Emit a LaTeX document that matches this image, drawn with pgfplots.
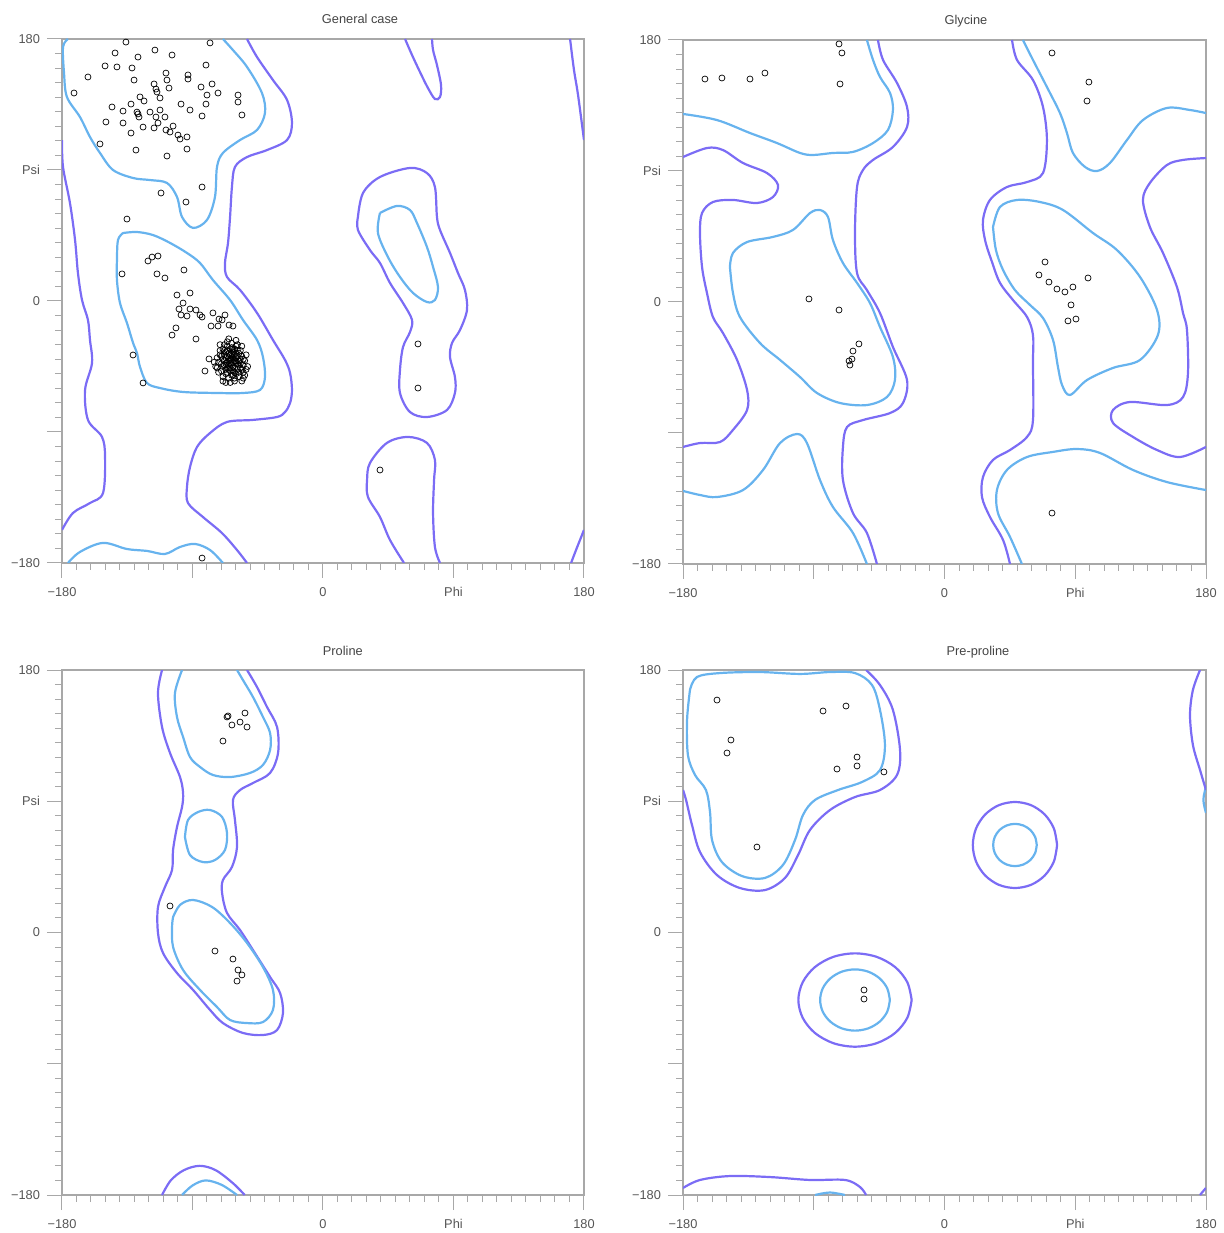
\documentclass[border=0pt]{standalone}
\usepackage{fontspec}
\setmainfont{Liberation Sans}
\usepackage{pgfplots}
\pgfplotsset{compat=1.18}
\definecolor{purp}{HTML}{7B6CF5}
\definecolor{lblue}{HTML}{67B3EE}
\definecolor{axgray}{HTML}{A8A8A8}
\definecolor{labgray}{HTML}{555555}
\definecolor{titgray}{HTML}{444444}
\pgfplotsset{
  rama/.style={
    scale only axis,
    xmin=-180,xmax=180,ymin=-180,ymax=180,
    xtick={-180,-90,0,90,180}, xticklabels={−180,,0,Phi,180},
    ytick={-180,-90,0,90,180}, yticklabels={−180,,0,Psi,180},
    minor tick num=8,
    tick align=outside, xtick pos=bottom, ytick pos=left,
    major tick length=7.5pt, minor tick length=3.5pt,
    axis line style={draw=axgray, line width=0.6pt},
    every tick/.style={axgray, line width=0.5pt},
    tick label style={font=\fontsize{6.4}{7}\selectfont, text=labgray},
    xticklabel style={yshift=-1.2pt},
    title style={font=\fontsize{6.4}{7}\selectfont, text=titgray, anchor=base, yshift=1.5pt},
    clip=true,
  },
  pu/.style={purp, line width=1.1pt, smooth, tension=0.55},
  lb/.style={lblue, line width=1.1pt, smooth, tension=0.55},
  pts/.style={only marks, mark=o, mark size=1.5pt, black, mark options={line width=0.35pt}},
}
\begin{document}
\begin{tikzpicture}
\path[use as bounding box] (0,0) rectangle (611.5pt,616.5pt);
% ================= General case =================
\begin{axis}[rama, width=261pt, height=262pt, at={(31pt,335pt)}, anchor=south west,
  title={General case}, title style={at={(0.571,1)}}]
\addplot[lb] coordinates {(-175.9,180) (-179.3,174.5) (-178.6,156.6) (-176.6,140.2) (-167.6,126.4) (-160.7,112.7) (-153.8,101.7) (-144.8,90) (-131.0,84.5) (-119.3,83.1) (-107.6,81.1) (-100.7,71.5) (-97.2,57.7) (-89.6,50.2) (-80.0,55.7) (-74.5,71.5) (-73.1,92.1) (-69.0,101.7) (-57.2,110.6) (-45.5,117.5) (-40.0,129.2) (-42.1,142.9) (-52.4,160.8) (-62.1,172.4) (-69.0,180)};
\addplot[lb] coordinates {(-175.9,-180) (-167.6,-172.4) (-151.7,-166.2) (-135.2,-170.4) (-121.4,-171.7) (-109.0,-173.8) (-98.6,-169.0) (-88.3,-166.9) (-77.9,-171.1) (-69.0,-180)};
\addplot[lb] coordinates {(-137.9,46.7) (-128.3,47.4) (-117.2,45.3) (-105.5,39.9) (-93.8,33.0) (-84.8,26.1) (-75.9,14.4) (-64.1,0.7) (-55.2,-13.0) (-45.5,-26.8) (-41.4,-38.5) (-40.0,-52.2) (-43.4,-61.1) (-55.2,-63.2) (-73.1,-63.2) (-96.5,-62.5) (-112.4,-59.8) (-121.4,-56.3) (-126.2,-45.3) (-128.3,-35.7) (-131.0,-28.8) (-135.2,-15.1) (-140.0,-1.4) (-142.1,14.4) (-142.1,28.2) (-141.4,41.9) (-137.9,46.7)};
\addplot[lb] coordinates {(39.3,60.5) (51.0,65.3) (60.0,62.5) (64.8,53.6) (71.7,37.1) (75.9,23.4) (79.3,9.6) (77.2,0.7) (71.7,-0.7) (62.1,5.5) (53.1,16.5) (44.8,30.2) (37.9,46.7) (39.3,60.5)};
\addplot[pu] coordinates {(-52.4,180) (-45.5,167.6) (-34.5,151.8) (-24.8,138.1) (-21.4,122.3) (-24.8,110.6) (-38.6,103.7) (-52.4,98.9) (-60.7,92.1) (-62.8,78.3) (-64.1,57.7) (-65.5,39.9) (-67.6,26.1) (-66.2,16.5) (-57.2,7.6) (-45.5,-8.2) (-34.5,-26.8) (-26.2,-40.5) (-22.7,-49.5) (-21.4,-61.1) (-22.7,-70.1) (-26.2,-76.3) (-31.7,-79.7) (-48.3,-81.7) (-66.2,-83.1) (-77.9,-90.7) (-86.9,-100.3) (-91.7,-114.0) (-93.8,-127.8) (-93.1,-138.8) (-82.8,-148.4) (-69.7,-159.4) (-59.3,-171.1) (-52.4,-180)};
\addplot[pu] coordinates {(-180,110.6) (-179.3,92.1) (-174.5,67.3) (-171.0,41.9) (-169.0,19.2) (-166.2,0.7) (-162.1,-13.0) (-160.7,-26.8) (-159.3,-42.6) (-164.1,-61.1) (-162.1,-81.7) (-152.4,-93.4) (-150.3,-107.2) (-151.7,-131.9) (-160.7,-138.8) (-172.4,-145.6) (-180,-157.3)};
\addplot[pu] coordinates {(170.4,180) (173.1,158.7) (175.9,141.5) (180,110.6)};
\addplot[pu] coordinates {(171.1,-180) (174.5,-171.1) (180,-157.3)};
\addplot[pu] coordinates {(56.6,180) (61.4,169.0) (66.9,157.3) (72.4,146.3) (77.2,138.8) (80.7,140.2) (81.4,148.4) (78.6,162.1) (75.9,172.4) (75.2,180)};
\addplot[pu] coordinates {(55.9,-180) (46.2,-164.2) (39.3,-148.4) (31.0,-134.6) (30.4,-123) (32.4,-111.3) (44.1,-97.5) (58.6,-93.4) (71.7,-97.5) (77.2,-109.2) (76.6,-123) (75.9,-145.6) (77.2,-169) (80.7,-180)};
\addplot[pu] coordinates {(24.1,57.7) (27.6,74.2) (39.3,85.2) (60.0,91.4) (71.7,87.9) (77.2,78.3) (78.6,57.7) (80.7,48.8) (87.6,33.0) (93.1,19.2) (97.9,7.6) (99.3,-6.2) (94.5,-19.9) (89.0,-28.8) (87.6,-38.5) (91.0,-52.2) (91.0,-63.2) (85.5,-74.9) (71.7,-79.7) (60.0,-76.3) (53.1,-63.2) (53.1,-47.4) (55.2,-31.6) (60.0,-21.3) (61.4,-13.0) (55.2,-1.4) (46.2,12.4) (39.3,26.1) (32.4,35.0) (24.1,48.8) (24.1,57.7)};
\addplot[pts] coordinates {(-135.9,177.9) (-77.9,177.3) (-115.9,172.4) (-143.4,170.4) (-104.1,169.0) (-127.6,167.6) (-150.3,161.5) (-142.1,160.8) (-131.7,160.1) (-80.7,162.1) (-108.3,156.6) (-93.1,155.3) (-93.1,152.5) (-162.1,153.9) (-130.3,151.8) (-107.6,151.8) (-116.5,149.1) (-76.5,149.1) (-84.1,147.0) (-115.2,145.6) (-106.2,146.3) (-114.5,143.6) (-72.4,142.9) (-171.7,142.9) (-80.0,141.5) (-58.6,141.5) (-126.2,140.2) (-112.4,139.5) (-123.4,137.4) (-132.4,135.3) (-97.9,135.3) (-80.7,135.3) (-58.6,136.7) (-145.5,133.3) (-137.9,130.5) (-128.3,129.8) (-127.6,128.5) (-119.3,129.8) (-112.4,131.2) (-91.7,131.2) (-126.9,126.4) (-115.2,126.4) (-109.0,126.4) (-83.4,127.1) (-55.9,127.8) (-149.7,123.0) (-137.9,122.3) (-113.8,122.3) (-124.1,119.5) (-116.5,118.9) (-103.4,120.2) (-108.3,117.5) (-105.5,116.1) (-132.4,115.4) (-100.0,114.0) (-93.8,112.7) (-98.6,111.3) (-153.8,107.9) (-129.0,103.7) (-93.8,104.4) (-107.6,99.6) (-83.4,78.3) (-111.7,74.2) (-94.5,68.0) (-135.2,56.3) (-113.8,30.9) (-117.9,30.2) (-120.7,27.5) (-138.6,18.6) (-114.5,18.6) (-109.0,15.8) (-95.9,21.3) (-91.7,5.5) (-100.7,4.1) (-96.5,-1.4) (-99.3,-5.5) (-91.7,-5.5) (-87.6,-6.2) (-97.9,-9.6) (-93.8,-10.3) (-84.8,-9.6) (-83.4,-11.0) (-75.9,-8.2) (-71.7,-12.4) (-67.6,-9.6) (-69.6,-13.0) (-77.2,-17.2) (-72.4,-17.2) (-64.8,-16.5) (-62.1,-17.2) (-101.4,-18.5) (-104.1,-23.4) (-87.6,-26.1) (-78.6,-39.8) (-81.4,-48.1) (-131.0,-37.1) (-124.1,-56.3) (39.3,-116.1) (65.5,-29.5) (65.5,-59.8) (-83.4,-176.6)
(-64,-40) (-62,-42) (-66,-38) (-60,-39) (-68,-41) (-63,-36) (-65,-44) (-61,-46) (-67,-35) (-59,-43) (-70,-38) (-62,-33) (-57,-40) (-64,-48) (-69,-45) (-58,-36) (-66,-31) (-60,-50) (-72,-42) (-55,-44) (-63,-29) (-67,-50) (-71,-34) (-56,-38) (-61,-37) (-65,-41) (-63,-44) (-59,-47) (-68,-37) (-62,-39) (-66,-46) (-70,-48) (-57,-46) (-54,-41) (-73,-39) (-64,-33) (-60,-31) (-68,-30) (-58,-52) (-65,-53) (-61,-55) (-55,-49) (-74,-45) (-69,-52) (-53,-37) (-71,-30) (-56,-31) (-63,-51) (-67,-43) (-60,-43) (-64,-37) (-66,-34) (-58,-41) (-62,-48) (-59,-34) (-69,-33) (-72,-49) (-54,-51) (-56,-55) (-65,-26) (-60,-27) (-75,-42) (-52,-45) (-67,-56)
(-63,-40.5) (-61,-41) (-65,-39) (-64,-43) (-62,-45) (-66,-42) (-60,-36) (-67,-39) (-63,-38) (-58,-44) (-68,-44) (-61,-49) (-65,-47) (-59,-38) (-57,-43) (-69,-40) (-62,-35) (-64,-46) (-66,-49) (-60,-41) (-56,-47) (-70,-43) (-63,-32) (-67,-47) (-58,-49) (-61,-53) (-55,-40) (-71,-37) (-65,-36) (-62,-51) (-59,-30) (-68,-34) (-57,-34) (-64,-56) (-73,-46) (-53,-47) (-66,-28) (-61,-33) (-69,-55) (-55,-53)};
\end{axis}
% ================= Glycine =================
\begin{axis}[rama, width=261.5pt, height=262pt, at={(341.5pt,334.5pt)}, anchor=south west,
  title={Glycine}, title style={at={(0.541,1)}}]
\addplot[lb] coordinates {(-180,129.2) (-156.6,125.0) (-133.9,116.1) (-115.3,109.2) (-99.5,102.4) (-90.5,101.0) (-76.8,102.4) (-63.0,103.1) (-49.2,109.2) (-38.9,118.2) (-35.5,131.9) (-37.5,143.6) (-44.4,154.6) (-49.2,166.3) (-53.4,180)};
\addplot[lb] coordinates {(-53.4,-180) (-63.0,-158.7) (-76.8,-140.8) (-85.7,-122.3) (-94.7,-96.9) (-101.5,-90.7) (-113.2,-96.9) (-124.9,-115.4) (-138.7,-129.2) (-156.6,-134.0) (-168.3,-132.6) (-180,-129.8)};
\addplot[lb] coordinates {(54.0,180) (60.9,166.3) (70.5,147.7) (79.5,129.8) (84.3,116.1) (88.4,102.4) (96.7,92.8) (105.0,90.0) (113.9,95.5) (125.6,111.3) (136.6,125.0) (153.1,133.3) (169.0,131.9) (180,129.8)};
\addplot[lb] coordinates {(180,-129.2) (153.1,-123.7) (129.7,-115.4) (107.0,-103.7) (91.2,-101.0) (74.7,-103.0) (56.8,-106.5) (43.0,-115.4) (36.1,-129.2) (36.8,-145.0) (45.1,-161.4) (53.3,-180)};
\addplot[lb] coordinates {(-147.7,24.1) (-145.6,33.7) (-135.9,41.2) (-118.1,44.7) (-104.3,49.5) (-92.6,61.1) (-85.7,63.2) (-80.2,58.4) (-76.8,42.6) (-69.9,26.8) (-60.2,13.1) (-51.3,-0.7) (-44.4,-17.2) (-35.5,-37.8) (-34.1,-53.6) (-39.6,-65.3) (-53.4,-70.8) (-71.9,-69.4) (-87.8,-62.5) (-99.5,-51.5) (-113.2,-39.8) (-127.0,-28.2) (-140.8,-10.3) (-145.6,6.2) (-147.7,24.1)};
\addplot[lb] coordinates {(33.4,51.5) (38.2,65.3) (49.9,70.1) (65.7,68.7) (81.6,63.2) (102.2,47.4) (118.7,35.7) (134.6,17.2) (146.3,-5.5) (146.9,-22.7) (134.6,-39.8) (116.0,-45.3) (98.1,-53.6) (86.4,-63.9) (80.9,-57.0) (78.1,-44.6) (74.7,-26.1) (67.8,-11.0) (58.8,-2.0) (48.5,8.2) (40.3,22.0) (35.4,35.7) (33.4,51.5)};
\addplot[pu] coordinates {(-180,99.6) (-163.5,105.8) (-152.5,104.4) (-138.7,95.5) (-122.2,88.6) (-114.6,80.4) (-118.1,72.1) (-129.1,68.0) (-145.6,70.1) (-159.4,68.7) (-166.9,61.1) (-168.3,47.4) (-166.9,24.1) (-163.5,6.2) (-159.4,-10.3) (-152.5,-21.3) (-142.8,-39.8) (-135.9,-60.5) (-135.9,-74.2) (-145.6,-87.9) (-154.5,-96.2) (-168.3,-96.9) (-180,-99.6)};
\addplot[pu] coordinates {(180,98.9) (164.2,97.6) (153.1,94.1) (141.4,81.8) (136.6,70.1) (141.4,51.5) (150.4,33.7) (160.0,10.3) (164.2,-7.6) (166.9,-19.2) (167.6,-48.8) (164.2,-65.3) (153.1,-70.8) (127.7,-68.7) (116.0,-74.2) (116.0,-83.1) (129.7,-92.7) (146.3,-101.7) (162.1,-106.5) (180,-99.6)};
\addplot[pu] coordinates {(-45.8,180) (-42.3,166.3) (-32.7,150.5) (-25.8,134.0) (-25.8,120.2) (-35.5,106.5) (-49.2,97.6) (-56.1,90.7) (-60.2,79.0) (-61.6,47.4) (-60.2,19.9) (-53.4,8.2) (-44.4,-7.6) (-35.5,-30.9) (-25.8,-53.6) (-28.6,-69.4) (-37.5,-76.3) (-56.1,-81.1) (-67.1,-85.9) (-69.9,-99.6) (-69.9,-122.3) (-63.0,-145.0) (-53.4,-158.7) (-46.5,-180)};
\addplot[pu] coordinates {(46.5,180) (49.9,166.3) (60.9,152.5) (67.8,134.0) (70.5,111.3) (67.8,88.6) (56.8,82.4) (43.0,79.0) (31.3,70.1) (26.5,56.3) (27.9,42.6) (32.7,27.5) (38.2,13.1) (47.1,1.4) (56.8,-10.3) (60.9,-22.7) (60.9,-41.9) (60.9,-81.1) (56.8,-92.7) (45.1,-101.7) (33.4,-108.5) (26.5,-120.2) (25.8,-134.0) (31.3,-147.7) (40.3,-163.5) (45.1,-180)};
\addplot[pts] coordinates {(-164.9,153.2) (-153.2,153.9) (-133.9,153.2) (-123.6,157.3) (-72.6,177.3) (-70.6,171.1) (-71.9,149.8) (-93.3,2.1) (-72.6,-5.5) (-58.9,-28.8) (-63.0,-33.7) (-63.7,-39.2) (-65.7,-40.5) (-65.1,-43.3) (74.0,171.1) (99.4,151.1) (98.1,138.1) (69.2,27.5) (65.0,18.6) (71.9,13.7) (77.4,8.9) (82.9,6.9) (88.4,10.3) (98.8,16.5) (87.1,-2.0) (85.0,-13.0) (90.5,-11.7) (74.0,-145.0)};
\end{axis}
% ================= Proline =================
\begin{axis}[rama, width=261pt, height=262.5pt, at={(31pt,19pt)}, anchor=south west,
  title={Proline}, title style={at={(0.538,1)}}]
\addplot[pu] coordinates {(-111.0,180) (-113.8,164.2) (-111.0,140.9) (-105.5,123.1) (-98.6,106.6) (-96.5,95.7) (-97.2,86.1) (-100.7,72.3) (-103.4,56.6) (-104.1,42.9) (-109.0,31.2) (-113.8,17.5) (-113.8,-0.3) (-110.3,-14.1) (-100.7,-27.8) (-89.6,-39.4) (-77.9,-53.1) (-69.0,-62.1) (-55.2,-68.9) (-41.4,-70.3) (-31.7,-66.9) (-27.6,-55.2) (-29.6,-41.5) (-36.5,-30.5) (-48.3,-12.0) (-57.2,1.7) (-66.2,13.4) (-69.6,27.1) (-69.0,36.0) (-62.8,44.9) (-59.3,58.6) (-60.7,77.1) (-62.1,90.9) (-57.2,97.7) (-48.3,102.5) (-36.5,109.4) (-31.0,123.1) (-31.7,140.9) (-38.6,154.6) (-45.5,168.3) (-52.4,180)};
\addplot[pu] coordinates {(-111.0,-180) (-105,-170) (-96,-163) (-85,-160) (-74,-163) (-62,-172) (-54,-180)};
\addplot[lb] coordinates {(-97.2,-180) (-90,-173.5) (-81,-170) (-70,-173) (-59.3,-180)};
\addplot[lb] coordinates {(-97.2,180) (-102.1,164.2) (-100.7,147.8) (-96.5,134.1) (-91.7,120.3) (-84.8,113.5) (-75.9,108.0) (-64.1,106.6) (-50.3,109.4) (-41.4,114.9) (-36.5,125.1) (-36.5,136.8) (-41.4,147.8) (-48.3,161.5) (-55.2,173.1) (-59.3,180)};
\addplot[lb] coordinates {(-95.2,65.5) (-93.1,77.1) (-86.2,82.6) (-77.9,84.0) (-69.6,79.2) (-66.2,68.2) (-67.6,56.6) (-74.5,49.7) (-82.8,48.3) (-91.7,53.1) (-95.2,65.5)};
\addplot[lb] coordinates {(-103.4,10.6) (-98.6,18.9) (-89.6,22.3) (-76.5,17.5) (-64.1,6.5) (-52.4,-7.2) (-41.4,-23.7) (-34.5,-39.4) (-34.5,-53.1) (-41.4,-61.4) (-52.4,-62.1) (-64.1,-60.0) (-73.1,-51.1) (-84.8,-39.4) (-96.5,-25.7) (-103.4,-9.9) (-104.1,3.8) (-103.4,10.6)};
\addplot[pts] coordinates {(-65.5,148.5) (-66.2,147.8) (-53.8,150.5) (-62.8,142.3) (-57.2,144.3) (-52.4,140.9) (-69.0,131.3) (-105.5,18.2) (-74.5,-12.7) (-62.1,-18.2) (-58.6,-25.7) (-55.9,-29.1) (-59.3,-33.3)};
\end{axis}
% ================= Pre-proline =================
\begin{axis}[rama, width=261.5pt, height=262.5pt, at={(341.5pt,19pt)}, anchor=south west,
  title={Pre-proline}, title style={at={(0.564,1)}}]
\addplot[lb] coordinates {(-175.2,166.3) (-170.4,175.2) (-154.5,177.9) (-127.0,178.6) (-99.5,177.3) (-78.8,178.6) (-61.6,177.9) (-49.9,169.7) (-44.4,152.6) (-41.0,128.6) (-44.4,111.4) (-56.8,103.2) (-73.3,97.7) (-89.1,90.9) (-97.4,80.6) (-102.9,63.4) (-111.2,46.3) (-123.6,37.4) (-139.4,38.7) (-153.2,48.3) (-160.0,63.4) (-161.4,82.6) (-164.2,97.7) (-171.7,108.0) (-176.6,121.7) (-177.2,145.7) (-175.2,166.3)};
\addplot[lb] coordinates {(-89.1,-180) (-79,-178.3) (-68.5,-180)};
\addplot[lb] coordinates {(180,100) (178.2,91) (180,82)};
\addplot[pu] coordinates {(-54.0,180) (-44.4,169.7) (-35.5,152.6) (-30.6,125.1) (-32.7,108.0) (-44.4,97.7) (-61.6,92.9) (-78.8,84.0) (-92.6,70.3) (-100.8,53.1) (-109.8,37.4) (-123.6,29.1) (-140.8,30.5) (-156.6,39.4) (-168.3,55.2) (-173.8,73.7) (-177.9,90.9) (-180,97.7)};
\addplot[pu] coordinates {(175.9,180) (171.0,166.3) (169.0,149.1) (171.0,128.6) (175.9,111.4) (180,97.7)};
\addplot[pu] coordinates {(-180,-175.2) (-168.3,-169.7) (-147.6,-167.0) (-120.1,-167.7) (-92.6,-169.7) (-68.5,-169.7) (-58.2,-174.5) (-54.0,-180)};
\addplot[pu] coordinates {(175.9,-180) (178.7,-176.6) (180,-175.2)};
\addplot[pu] coordinates {(77.5,60) (75.3,71.3) (69.0,80.9) (59.6,87.3) (48.5,89.5) (37.4,87.3) (28.0,80.9) (21.7,71.3) (19.5,60) (21.7,48.7) (28.0,39.1) (37.4,32.7) (48.5,30.5) (59.6,32.7) (69.0,39.1) (75.3,48.7) (77.5,60)};
\addplot[lb] coordinates {(63.5,60) (62.4,65.5) (59.1,70.3) (54.2,73.4) (48.5,74.5) (42.8,73.4) (37.9,70.3) (34.6,65.5) (33.5,60) (34.6,54.5) (37.9,49.7) (42.8,46.6) (48.5,45.5) (54.2,46.6) (59.1,49.7) (62.4,54.5) (63.5,60)};
\addplot[pu] coordinates {(-22.6,-46.3) (-25.6,-34.1) (-34.0,-23.7) (-46.7,-16.7) (-61.6,-14.3) (-76.5,-16.7) (-89.2,-23.7) (-97.6,-34.1) (-100.6,-46.3) (-97.6,-58.5) (-89.2,-68.9) (-76.5,-75.9) (-61.6,-78.3) (-46.7,-75.9) (-34.0,-68.9) (-25.6,-58.5) (-22.6,-46.3)};
\addplot[lb] coordinates {(-37.6,-46.3) (-39.4,-38.3) (-44.6,-31.5) (-52.4,-26.9) (-61.6,-25.3) (-70.8,-26.9) (-78.6,-31.5) (-83.8,-38.3) (-85.6,-46.3) (-83.8,-54.3) (-78.6,-61.1) (-70.8,-65.7) (-61.6,-67.3) (-52.4,-65.7) (-44.6,-61.1) (-39.4,-54.3) (-37.6,-46.3)};
\addplot[pts] coordinates {(-156.6,159.4) (-83.6,151.9) (-67.8,155.3) (-147.0,132.0) (-149.7,123.1) (-60.2,120.3) (-60.2,114.2) (-74.0,112.1) (-41.7,110.1) (-129.1,58.6) (-55.4,-39.4) (-55.4,-45.6)};
\end{axis}
\end{tikzpicture}
\end{document}
